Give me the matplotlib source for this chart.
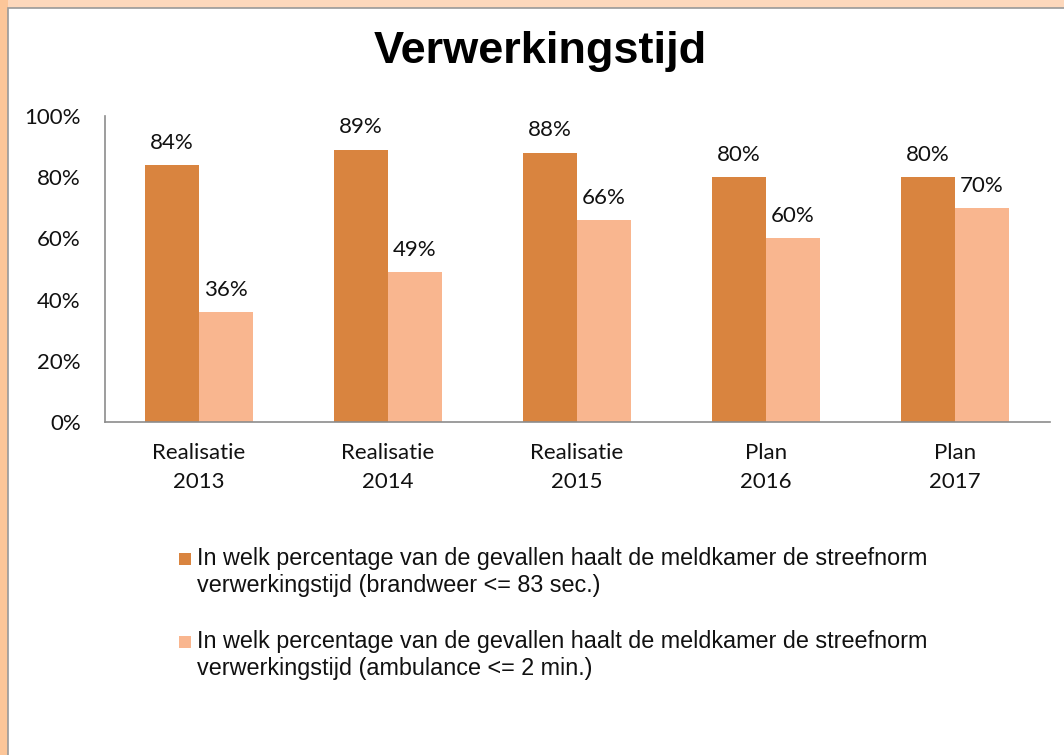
import matplotlib
matplotlib.use("Agg")
import matplotlib.pyplot as plt
from matplotlib.patches import Rectangle
import numpy as np

categories = ["Realisatie\n2013", "Realisatie\n2014", "Realisatie\n2015", "Plan\n2016", "Plan\n2017"]
brandweer = [84, 89, 88, 80, 80]
ambulance = [36, 49, 66, 60, 70]
yticks = [0, 20, 40, 60, 80, 100]
series_labels = [
    "In welk percentage van de gevallen haalt de meldkamer de streefnorm\nverwerkingstijd (brandweer <= 83 sec.)",
    "In welk percentage van de gevallen haalt de meldkamer de streefnorm\nverwerkingstijd (ambulance <= 2 min.)",
]
title = "Verwerkingstijd"

c_dark = "#D9843F"
c_light = "#F9B68F"
W, H = 1064, 755

fig = plt.figure(figsize=(W / 100, H / 100), dpi=100)

# background frame
fig.patches.append(Rectangle((0, 0), 1, 1, transform=fig.transFigure, facecolor="#FDD8BC", edgecolor="none", zorder=-10))
fig.patches.append(Rectangle((0, 0), 8 / W, 1, transform=fig.transFigure, facecolor="#FCC699", edgecolor="none", zorder=-9))
fig.patches.append(Rectangle((7.5 / W, -0.01), 1.02, 1 - 8.5 / H + 0.01, transform=fig.transFigure,
                             facecolor="white", edgecolor="#999999", linewidth=1.2, zorder=-8))

ax = fig.add_axes([104.5 / W, 1 - 422 / H, 945 / W, 306 / H])
ax.set_facecolor("none")
x = np.arange(len(categories))
bw = 0.286
b1 = ax.bar(x - bw / 2, brandweer, bw, color=c_dark)
b2 = ax.bar(x + bw / 2, ambulance, bw, color=c_light)

label_font = dict(family="Lato", size=16, color="#111111")
for xi, v in zip(x - bw / 2, brandweer):
    ax.annotate(f"{v}%", xy=(xi, v), xytext=(0, 16), textcoords="offset points", ha="center", va="center", **label_font)
for xi, v in zip(x + bw / 2, ambulance):
    ax.annotate(f"{v}%", xy=(xi, v), xytext=(0, 16), textcoords="offset points", ha="center", va="center", **label_font)

ax.set_xlim(-0.5, len(categories) - 0.5)
ax.set_ylim(0, 100)
ax.set_yticks(yticks)
ax.set_yticklabels([f"{t}%" for t in yticks], **label_font)
ax.set_xticks(x)
ax.set_xticklabels(categories, linespacing=1.55, **label_font)
ax.tick_params(axis="y", length=0, pad=17)
ax.tick_params(axis="x", length=0, pad=15)
for s in ["top", "right"]:
    ax.spines[s].set_visible(False)
for s in ["left", "bottom"]:
    ax.spines[s].set_color("#8C8C8C")
    ax.spines[s].set_linewidth(1.2)

fig.text(540 / W, 1 - 52 / H, title, ha="center", va="center", family="Liberation Sans",
         weight="bold", size=32.5, color="black")

# legend
for i, (lab, col) in enumerate(zip(series_labels, [c_dark, c_light])):
    yc = [559, 642][i]
    fig.patches.append(Rectangle((179 / W, 1 - (yc + 6) / H), 12 / W, 12 / H, transform=fig.transFigure,
                                 facecolor=col, edgecolor="none"))
    fig.text(197 / W, 1 - (yc - 12) / H, lab, ha="left", va="top", family="Liberation Sans",
             size=16.8, color="#111111", linespacing=1.22)

fig.savefig("out.png", dpi=100)
